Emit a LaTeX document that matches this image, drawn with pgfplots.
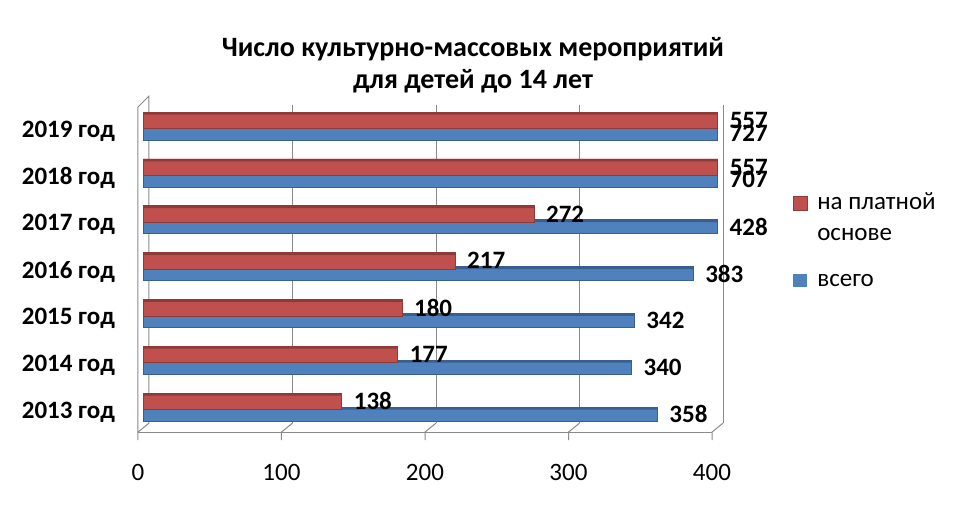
\documentclass[border=0pt]{standalone}
\usepackage{pgfplots}
\pgfplotsset{compat=1.18}
\usepackage{pgfplotstable}
\usepackage{fontspec}
\setmainfont{Carlito}
\definecolor{cred}{HTML}{C0504D}
\definecolor{cblue}{HTML}{4F81BD}
\definecolor{credd}{HTML}{8E3B38}
\definecolor{cblued}{HTML}{3A5F8E}
\definecolor{cgrid}{HTML}{8A8A8A}

\pgfplotstableread{
idx paid total
0 138 358
1 177 340
2 180 342
3 217 383
4 272 428
5 557 707
6 557 727
}\data

\begin{document}
\begin{tikzpicture}[x=1bp,y=1bp]
\begin{axis}[
  width=574bp, height=327.8bp, scale only axis,
  xmin=0, xmax=400, ymin=-0.45, ymax=6.55,
  clip=false,
  xbar,
  legend image code/.code={\fill[#1] (0bp,-1bp) rectangle (13.5bp,12.5bp);},
  axis line style={draw=none},
  major tick length=0pt,
  /pgf/number format/assume math mode=true,
  xtick={0,100,200,300,400},
  ytick={0,1,2,3,4,5,6},
  yticklabels={2013 год,2014 год,2015 год,2016 год,2017 год\hspace{7bp},2018 год,2019 год},
  yticklabel style={font=\bfseries\fontsize{25bp}{28bp}\selectfont, anchor=east, inner sep=0pt, xshift=-28.5bp, yshift=-5bp},
  xticklabel style={font=\fontsize{25bp}{28bp}\selectfont, anchor=center, inner sep=0pt, xshift=-5.5bp, yshift=-44.4bp},
  title={Число культурно-массовых мероприятий\\для детей до 14 лет},
  title style={align=center, font=\bfseries\fontsize{28bp}{32bp}\selectfont, at={(0.574,1.0903)}, anchor=center, inner sep=0pt},
  legend style={draw=none, fill=none, at={(1.1315,0.7264)}, anchor=north west, inner sep=0pt,
    font=\fontsize{25bp}{30bp}\selectfont, row sep=0pt, column sep=8bp,
    cells={anchor=base west, inner sep=0pt}},
  point meta=explicit symbolic,
  x filter/.expression={min(x,400)},
  label style/.style={nodes near coords, nodes near coords style={anchor=west, xshift=12bp, inner sep=0pt, font=\bfseries\fontsize{25bp}{28bp}\selectfont, text=black}},
]
\coordinate (o) at (axis cs:0,-0.45);
% 3D-style walls and grid
\pgfplotsinvokeforeach{100,200,300,400}{
  \draw[cgrid, line width=1bp] ([xshift=5.5bp,yshift=5bp]axis cs:#1,-0.45) -- ([xshift=5.5bp,yshift=-4.7bp]axis cs:#1,6.55);
}
\pgfplotsinvokeforeach{0,100,200,300,400}{
  \draw[cgrid, line width=1bp] ([xshift=5.5bp,yshift=5bp]axis cs:#1,-0.45) -- ([xshift=-5.5bp,yshift=-4bp]axis cs:#1,-0.45) -- ([xshift=-5.5bp,yshift=-12bp]axis cs:#1,-0.45);
}
\draw[cgrid, line width=1bp] ([xshift=-5.5bp,yshift=-4bp]axis cs:0,-0.45) -- ([xshift=-5.5bp,yshift=-4bp]axis cs:400,-0.45);
\draw[cgrid, line width=1bp] ([xshift=5.5bp,yshift=5bp]axis cs:0,-0.45) -- ([xshift=5.5bp,yshift=4.3bp]axis cs:0,6.55) -- ([xshift=-5.5bp,yshift=-6.7bp]axis cs:0,6.55) -- ([xshift=-5.5bp,yshift=-4bp]axis cs:0,-0.45);

% blue: total (bars drawn first, labels below)
\addplot[forget plot, bar width=14bp, bar shift=-7bp, fill=cblue, draw=cblued, line width=0.6bp]
  table[x=total, y=idx]{\data};
\addplot[forget plot, bar width=2.5bp, bar shift=-1.25bp, fill=cblued, draw=none]
  table[x=total, y=idx]{\data};
% red: paid
\addplot[label style, bar width=16.5bp, bar shift=5.75bp, fill=cred, draw=credd, line width=0.6bp]
  table[x=paid, y=idx, meta=paid]{\data};
\addlegendentry{на платной}
\addplot[forget plot, bar width=2.5bp, bar shift=12.75bp, fill=credd, draw=none]
  table[x=paid, y=idx]{\data};
\addlegendimage{empty legend}
\addlegendentry{\rule{0pt}{26bp}основе}
% blue value labels
\addplot[forget plot, label style, bar width=14bp, bar shift=-7bp, fill=cblue, draw=none, opacity=0, text opacity=1]
  table[x=total, y=idx, meta=total]{\data};
\addlegendimage{fill=cblue, draw=none}
\addlegendentry{\rule{0pt}{40bp}всего}
\end{axis}
\pgfresetboundingbox
\path ([shift={(-143.5,-81.9)}]o) rectangle ++(960,510);
\end{tikzpicture}
\end{document}
